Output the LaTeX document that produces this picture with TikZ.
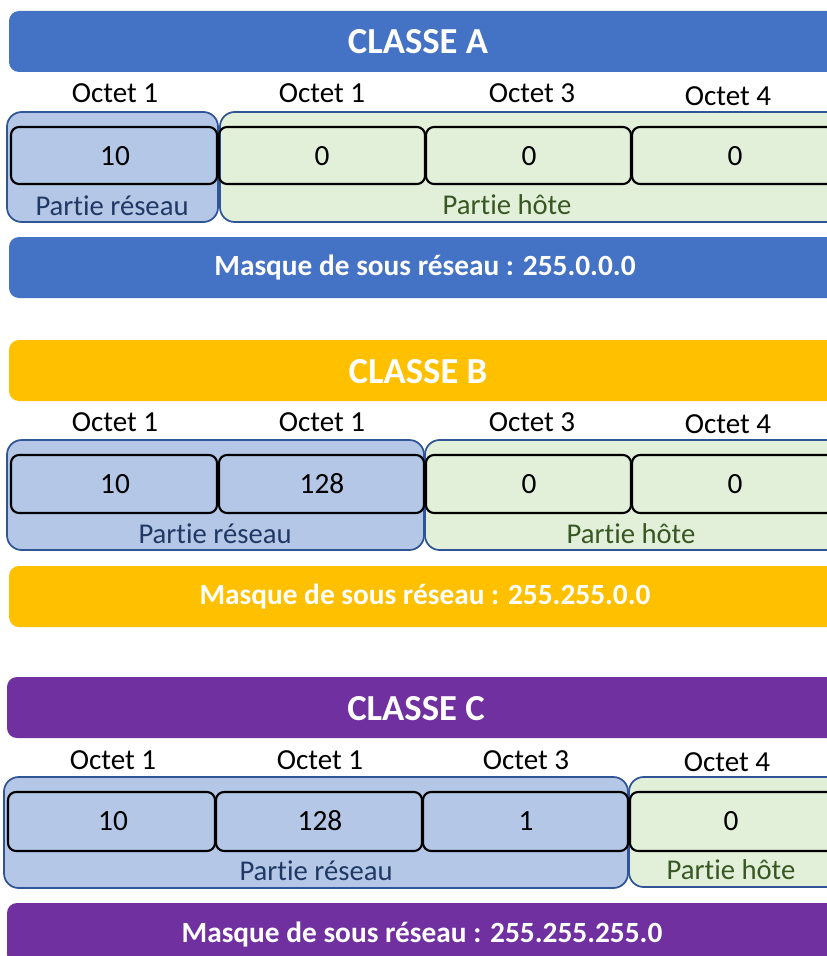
\documentclass[tikz,border=0pt]{standalone}
\usepackage{fontspec}
\setmainfont{Carlito}[Ligatures=NoCommon]
\definecolor{hdrA}{HTML}{4472C4}
\definecolor{hdrB}{HTML}{FFC000}
\definecolor{hdrC}{HTML}{7030A0}
\definecolor{netfill}{HTML}{B4C7E7}
\definecolor{hostfill}{HTML}{E2F0D9}
\definecolor{contborder}{HTML}{2F5597}
\definecolor{nettext}{HTML}{1F3864}
\definecolor{hosttext}{HTML}{385723}
\tikzset{
  bar/.style={rounded corners=7.5pt},
  netbox/.style={fill=netfill, draw=contborder, line width=1.3pt, rounded corners=11pt},
  hostbox/.style={fill=hostfill, draw=contborder, line width=1.3pt, rounded corners=11pt},
  cellbox/.style={draw=black, line width=1.6pt, rounded corners=6pt},
  txt/.style={inner sep=0pt, anchor=base},
  hdrtxt/.style={txt, text=white, font=\fontsize{27.5}{32}\selectfont\bfseries},
  masktxt/.style={txt, text=white, font=\fontsize{22}{26}\selectfont\bfseries},
  octtxt/.style={txt, text=black, font=\fontsize{21.8}{26}\selectfont},
  valtxt/.style={txt, text=black, font=\fontsize{22}{26}\selectfont},
  nettxt/.style={txt, text=nettext, font=\fontsize{21.5}{26}\selectfont},
  hosttxt/.style={txt, text=hosttext, font=\fontsize{21.5}{26}\selectfont},
}
\begin{document}
\begin{tikzpicture}[x=0.75pt, y=-0.75pt]
\useasboundingbox (0,0) rectangle (827,956);
\clip (0,0) rectangle (827,956);
\fill[white] (0,0) rectangle (827,956);

% ---------------- CLASSE A ----------------
\fill[hdrA, bar] (9,11) rectangle (845,72);
\node[hdrtxt] (hA) at (418,54) {CLASSE A};
\node[octtxt] (oA1) at (115,103) {Octet 1};
\node[octtxt] (oA2) at (322,103) {Octet 1};
\node[octtxt] (oA3) at (532,103) {Octet 3};
\node[octtxt] (oA4) at (728,105) {Octet 4};
\draw[netbox] (7,112) rectangle (218,222);
\draw[hostbox] (220,112) rectangle (850,222);
\draw[cellbox] (11,127) rectangle (217,184);
\draw[cellbox] (219,127) rectangle (425,184);
\draw[cellbox] (426,127) rectangle (631,184);
\draw[cellbox] (632,127) rectangle (838,184);
\node[valtxt] (vA1) at (115,165) {10};
\node[valtxt] (vA2) at (322,165) {0};
\node[valtxt] (vA3) at (529,165) {0};
\node[valtxt] (vA4) at (735,165) {0};
\node[nettxt] (nA) at (112,215) {Partie réseau};
\node[hosttxt] (sA) at (507,214) {Partie hôte};
\fill[hdrA, bar] (9,237) rectangle (845,298);
\node[masktxt] (mA) at (425,275) {Masque de sous réseau : 255.0.0.0};

% ---------------- CLASSE B ----------------
\fill[hdrB, bar] (9,340) rectangle (845,401);
\node[hdrtxt] (hB) at (418,383) {CLASSE B};
\node[octtxt] (oB1) at (115,431) {Octet 1};
\node[octtxt] (oB2) at (322,431) {Octet 1};
\node[octtxt] (oB3) at (532,431) {Octet 3};
\node[octtxt] (oB4) at (728,433) {Octet 4};
\draw[netbox] (7,440) rectangle (424,550);
\draw[hostbox] (425,440) rectangle (850,550);
\draw[cellbox] (11,455) rectangle (217,513);
\draw[cellbox] (219,455) rectangle (424,513);
\draw[cellbox] (426,455) rectangle (631,513);
\draw[cellbox] (632,455) rectangle (838,513);
\node[valtxt] (vB1) at (115,493) {10};
\node[valtxt] (vB2) at (322,493) {128};
\node[valtxt] (vB3) at (529,493) {0};
\node[valtxt] (vB4) at (735,493) {0};
\node[nettxt] (nB) at (215,543) {Partie réseau};
\node[hosttxt] (sB) at (631,543) {Partie hôte};
\fill[hdrB, bar] (9,566) rectangle (845,627);
\node[masktxt] (mB) at (425,604) {Masque de sous réseau : 255.255.0.0};

% ---------------- CLASSE C ----------------
\fill[hdrC, bar] (7,677) rectangle (845,738);
\node[hdrtxt] (hC) at (416,720) {CLASSE C};
\node[octtxt] (oC1) at (113,769) {Octet 1};
\node[octtxt] (oC2) at (320,769) {Octet 1};
\node[octtxt] (oC3) at (526,769) {Octet 3};
\node[octtxt] (oC4) at (727,771) {Octet 4};
\draw[netbox] (4,777) rectangle (628,888);
\draw[hostbox] (629,777) rectangle (850,887);
\draw[cellbox] (8,792) rectangle (215,851);
\draw[cellbox] (216,792) rectangle (422,851);
\draw[cellbox] (423,792) rectangle (628,851);
\draw[cellbox] (630,792) rectangle (836,851);
\node[valtxt] (vC1) at (113,830) {10};
\node[valtxt] (vC2) at (320,830) {128};
\node[valtxt] (vC3) at (526,830) {1};
\node[valtxt] (vC4) at (731,830) {0};
\node[nettxt] (nC) at (316,880) {Partie réseau};
\node[hosttxt] (sC) at (731,879) {Partie hôte};
\fill[hdrC, bar] (7,903) rectangle (845,964);
\node[masktxt] (mC) at (422,942) {Masque de sous réseau : 255.255.255.0};
\end{tikzpicture}
\end{document}
